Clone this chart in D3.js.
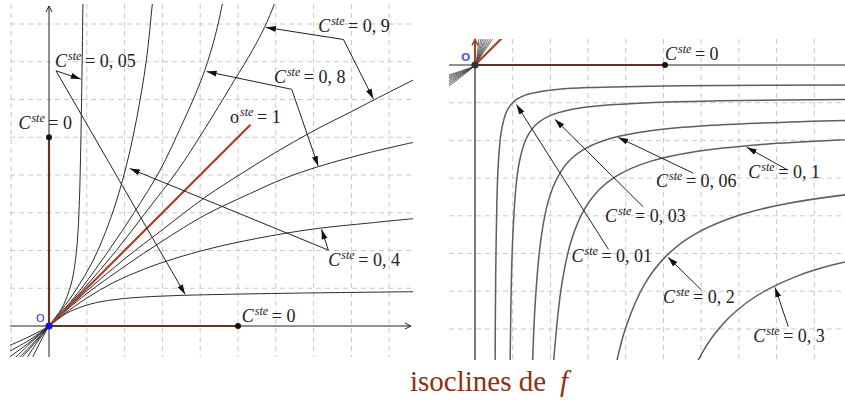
<!DOCTYPE html>
<html><head><meta charset="utf-8">
<script src="https://cdn.jsdelivr.net/npm/d3@7"></script>
<style>body{margin:0;background:#fff}svg{display:block}</style>
</head><body>
<svg id="chart" width="845" height="400"></svg>
<script>
// ---- isoclines through the origin (left panel), [x, y] in grid units ----
const iso005Low = [[-1.1,-0.54],[-0.5,-0.27],[0,0],[0.2,0.15],[0.47,0.34],[0.9,0.52],[1.35,0.64],[2.23,0.75],[3.2,0.8],[4.26,0.83],[6.5,0.87],[9.8,0.91]];
const iso005Up  = [[-0.47,-0.9],[-0.27,-0.5],[0,0],[0.15,0.2],[0.34,0.47],[0.52,0.9],[0.64,1.35],[0.75,2.23],[0.8,3.2],[0.83,4.26],[0.87,6.5],[0.9,8.8]];
const iso04Low  = [[-1.1,-0.7],[-0.5,-0.36],[0,0],[0.4,0.32],[1,0.74],[1.7,1.15],[2.5,1.5],[3.3,1.78],[4.26,2.05],[5.5,2.32],[7,2.57],[8.5,2.73],[9.8,2.86]];
const iso04Up   = [[-0.62,-0.9],[-0.36,-0.5],[0,0],[0.32,0.4],[0.74,1],[1.15,1.7],[1.5,2.5],[1.78,3.3],[2.05,4.26],[2.32,5.5],[2.57,7],[2.73,8.5],[2.76,8.8]];
const iso08Low  = [[-1.1,-0.86],[-0.5,-0.42],[0,0],[0.5,0.45],[1,0.86],[2,1.58],[3,2.25],[4.13,2.94],[5.3,3.5],[6.2,3.9],[7.12,4.22],[8.5,4.6],[9.8,4.9]];
const iso08Up   = [[-0.78,-0.9],[-0.42,-0.5],[0,0],[0.45,0.5],[0.86,1],[1.58,2],[2.25,3],[2.94,4.13],[3.5,5.3],[3.9,6.2],[4.13,6.8],[4.4,7.7],[4.58,8.5],[4.64,8.8]];
const iso09Low  = [[-1.0,-0.95],[-0.5,-0.46],[0,0],[1,0.93],[2,1.78],[3,2.55],[4.13,3.41],[5.11,4.05],[6.0,4.6],[7.0,5.17],[8.0,5.68],[8.58,5.98],[9.8,6.6]];
const iso09Up   = [[-0.9,-0.95],[-0.46,-0.5],[0,0],[0.93,1],[1.78,2],[2.55,3],[3.41,4.13],[4.05,5.11],[4.9,6.5],[5.38,7.3],[5.7,7.91],[5.95,8.5],[6.05,8.8]];
const leftIsoclines = [iso005Low, iso005Up, iso04Low, iso04Up, iso08Low, iso08Up, iso09Low, iso09Up];

// ---- isoclines of the fourth quadrant (right panel) ----
const iso001 = [[0.53,-8.83],[0.55,-5.5],[0.6,-3.0],[0.65,-2.17],[0.7,-1.75],[0.8,-1.33],[0.9,-1.125],[1.0,-1.0],[1.125,-0.9],[1.33,-0.8],[1.75,-0.7],[2.17,-0.65],[3.0,-0.6],[5.5,-0.55],[10.5,-0.525]];
const iso003 = [[0.91,-10.2],[0.95,-6.48],[1.0,-4.6],[1.1,-3.1],[1.2,-2.46],[1.35,-1.975],[1.6,-1.6],[1.975,-1.35],[2.46,-1.2],[3.1,-1.1],[4.6,-1.0],[6.48,-0.95],[10.2,-0.91]];
const iso006 = [[1.45,-11.2],[1.5,-8.75],[1.6,-6.27],[1.75,-4.61],[1.95,-3.59],[2.2,-2.96],[2.52,-2.52],[2.96,-2.2],[3.59,-1.95],[4.61,-1.75],[6.27,-1.6],[8.75,-1.5],[11.2,-1.45]];
const iso01  = [[1.9,-12.5],[2.0,-9.42],[2.1,-7.69],[2.3,-5.83],[2.55,-4.67],[2.9,-3.83],[3.3,-3.3],[3.83,-2.9],[4.67,-2.55],[5.83,-2.3],[7.69,-2.1],[9.42,-2.0],[12.5,-1.9]];
const iso02  = [[3.2,-12.8],[3.4,-10.2],[3.7,-8.15],[4.0,-6.96],[4.5,-5.81],[5.07,-5.07],[5.81,-4.5],[6.96,-4.0],[8.15,-3.7],[10.2,-3.4],[12.8,-3.2]];
const iso03  = [[5.0,-10.9],[5.3,-9.5],[5.6,-8.54],[6.0,-7.68],[6.3,-7.21],[6.72,-6.72],[7.21,-6.3],[7.68,-6.0],[8.54,-5.6],[9.5,-5.3],[10.9,-5.0]];
const rightIsoclines = [iso001, iso003, iso006, iso01, iso02, iso03];

// bundle of isoclines crossing the origin (right panel)
const fan1 = [[-0.75,-0.28],[-0.35,-0.15],[0,0],[0.06,0.3],[0.1,0.72]];
const fan2 = [[-0.75,-0.32],[-0.35,-0.17],[0,0],[0.08,0.3],[0.16,0.72]];
const fan3 = [[-0.75,-0.36],[-0.35,-0.19],[0,0],[0.1,0.3],[0.21,0.72]];
const fan4 = [[-0.75,-0.40],[-0.35,-0.21],[0,0],[0.12,0.3],[0.26,0.72]];
const fan5 = [[-0.75,-0.45],[-0.35,-0.23],[0,0],[0.14,0.3],[0.31,0.72]];
const fan6 = [[-0.75,-0.50],[-0.35,-0.25],[0,0],[0.16,0.3],[0.37,0.72]];
const fan7 = [[-0.75,-0.55],[-0.35,-0.27],[0,0],[0.18,0.3],[0.43,0.72]];
const fan8 = [[-0.75,-0.60],[-0.35,-0.3],[0,0],[0.2,0.3],[0.49,0.72]];
const rightFan = [fan1, fan2, fan3, fan4, fan5, fan6, fan7, fan8];

// zero-level and unit-level isoclines
const leftZeroY = [[0,0],[0,5]];
const leftZeroX = [[0,0],[5,0]];
const leftUnit  = [[0,0],[5.33,5.33]];
const rightZeroX = [[0,0],[5.04,0]];
const rightZeroY = [[0,0],[0,0.68]];
const rightUnit  = [[0,0],[0.8,0.8]];

// grid ticks
const leftGridX = [-1,1,2,3,4,5,6,7,8,9];
const leftGridY = [1,2,3,4,5,6,7,8];
const rightGridX = [1,2,3,4,5,6,7,8,9];
const rightGridY = [-1,-2,-3,-4,-5,-6,-7];

// labels: [letter, value, x, y]; arrows: [tail, tip, tip...]
const leftLabels = [
  ['C','0, 05',0.16,6.86], ['C','0',-0.81,5.21], ['C','0, 9',7.12,7.8],
  ['C','0, 8',5.95,6.43], ['o','1',4.79,5.37], ['C','0, 4',7.39,1.59], ['C','0',5.1,0.11]
];
const leftArrows = [
  [[0.185,6.76],[0.84,6.54],[3.6,0.84]],
  [[7.79,7.59],[5.74,7.91],[8.58,6.02]],
  [[6.42,6.27],[4.17,6.74],[7.12,4.24]],
  [[7.39,2.01],[2.14,4.17],[7.21,2.56]]
];
const rightLabels = [
  ['C','0',5.04,0.13], ['C','0, 06',4.8,-3.23], ['C','0, 1',7.25,-3.0],
  ['C','0, 03',3.45,-4.16], ['C','0, 01',2.56,-5.22], ['C','0, 2',4.99,-6.32], ['C','0, 3',7.38,-7.34]
];
const rightArrows = [
  [[3.54,-4.89],[1.1,-1.05]],
  [[4.46,-3.76],[2.12,-1.44]],
  [[5.79,-2.87],[3.8,-1.92]],
  [[8.3,-2.79],[7.21,-2.18]],
  [[6.01,-5.97],[5.12,-5.1]],
  [[8.31,-6.94],[7.96,-5.9]]
];

const titleText = 'isoclines de';
const titleVar = 'f';

// ---------------------------------------------------------------
const svg = d3.select('#chart');
const BROWN = '#a3461f';
const defs = svg.append('defs');
defs.append('marker').attr('id','tip').attr('viewBox','0 -4 10 8')
  .attr('refX',10).attr('refY',0).attr('markerWidth',10).attr('markerHeight',8)
  .attr('markerUnits','userSpaceOnUse').attr('orient','auto')
  .append('path').attr('d','M0,-3L10,0L0,3Z').attr('fill','#111');
defs.append('marker').attr('id','axisTip').attr('viewBox','0 -4 8 8')
  .attr('refX',7).attr('refY',0).attr('markerWidth',8).attr('markerHeight',8)
  .attr('markerUnits','userSpaceOnUse').attr('orient','auto')
  .append('path').attr('d','M1,-3L7,0L1,3').attr('fill','none').attr('stroke','#222').attr('stroke-width',1);
defs.append('marker').attr('id','axisTipBrown').attr('viewBox','0 -4 8 8')
  .attr('refX',7).attr('refY',0).attr('markerWidth',8).attr('markerHeight',8)
  .attr('markerUnits','userSpaceOnUse').attr('orient','auto')
  .append('path').attr('d','M1,-3L7,0L1,3').attr('fill','none').attr('stroke',BROWN).attr('stroke-width',1.5);

function panel(opts) {
  const {x, y, box, id} = opts;
  defs.append('clipPath').attr('id', id).append('rect')
    .attr('x', box[0]).attr('y', box[1]).attr('width', box[2]-box[0]).attr('height', box[3]-box[1]);
  const g = svg.append('g');
  const c = g.append('g').attr('clip-path', `url(#${id})`);
  const line = d3.line().x(d => x(d[0])).y(d => y(d[1])).curve(d3.curveCatmullRom.alpha(0.5));
  const straight = d3.line().x(d => x(d[0])).y(d => y(d[1]));
  // dashed grid
  c.selectAll('.gx').data(opts.gridX).join('line')
    .attr('x1', d => x(d)).attr('x2', d => x(d)).attr('y1', box[1]).attr('y2', box[3])
    .attr('stroke','#c9c9c9').attr('stroke-dasharray','5,4').attr('stroke-width',1);
  c.selectAll('.gy').data(opts.gridY).join('line')
    .attr('y1', d => y(d)).attr('y2', d => y(d)).attr('x1', box[0]).attr('x2', box[2])
    .attr('stroke','#c9c9c9').attr('stroke-dasharray','5,4').attr('stroke-width',1);
  return {g, c, line, straight};
}

// ---- left panel ----
const lx = d3.scaleLinear().domain([0,10]).range([49,427]);
const ly = d3.scaleLinear().domain([0,8]).range([326,24]);
const L = panel({x: lx, y: ly, box: [10,4,413,357], id: 'clipL', gridX: leftGridX, gridY: leftGridY});
L.g.append('line').attr('x1',10).attr('x2',411).attr('y1',ly(0)).attr('y2',ly(0))
  .attr('stroke','#222').attr('stroke-width',1).attr('marker-end','url(#axisTip)');
L.g.append('line').attr('x1',lx(0)).attr('x2',lx(0)).attr('y1',357).attr('y2',6)
  .attr('stroke','#222').attr('stroke-width',1).attr('marker-end','url(#axisTip)');
L.c.selectAll('.iso').data(leftIsoclines).join('path')
  .attr('d', L.line).attr('fill','none').attr('stroke','#2b2b2b').attr('stroke-width',1);
[leftZeroY, leftZeroX, leftUnit].forEach(s => L.c.append('path').attr('d', L.straight(s))
  .attr('fill','none').attr('stroke',BROWN).attr('stroke-width',2.2));
[[0,5],[5,0]].forEach(p => L.g.append('circle').attr('cx',lx(p[0])).attr('cy',ly(p[1])).attr('r',3).attr('fill','#111'));
L.g.append('circle').attr('cx',lx(0)).attr('cy',ly(0)).attr('r',3.6).attr('fill','#1414d8');
L.g.append('text').attr('x',36).attr('y',322).attr('font-family','DejaVu Sans, sans-serif')
  .attr('font-size',11).attr('fill','#2a3fe0').text('O');

// ---- right panel ----
const rx = d3.scaleLinear().domain([0,10]).range([475,852]);
const ry = d3.scaleLinear().domain([0,-8]).range([65,366.6]);
const R = panel({x: rx, y: ry, box: [449,39,845,360], id: 'clipR', gridX: rightGridX, gridY: rightGridY});
R.g.append('line').attr('x1',449).attr('x2',845).attr('y1',ry(0)).attr('y2',ry(0))
  .attr('stroke','#222').attr('stroke-width',1);
R.g.append('line').attr('x1',rx(0)).attr('x2',rx(0)).attr('y1',360).attr('y2',ry(0))
  .attr('stroke','#222').attr('stroke-width',1.2);
R.c.selectAll('.iso').data(rightIsoclines).join('path')
  .attr('d', R.line).attr('fill','none').attr('stroke','#5e5e5e').attr('stroke-width',1.5);
R.c.selectAll('.fan').data(rightFan).join('path')
  .attr('d', R.line).attr('fill','none').attr('stroke','#444').attr('stroke-width',0.8);
R.c.append('path').attr('d', R.straight(rightZeroX)).attr('fill','none').attr('stroke',BROWN).attr('stroke-width',2.2);
R.c.append('path').attr('d', R.straight(rightUnit)).attr('fill','none').attr('stroke',BROWN).attr('stroke-width',2.2);
R.g.append('path').attr('d', R.straight(rightZeroY)).attr('fill','none').attr('stroke',BROWN)
  .attr('stroke-width',2).attr('marker-end','url(#axisTipBrown)');
R.g.append('circle').attr('cx',rx(5.04)).attr('cy',ry(0)).attr('r',3).attr('fill','#111');
R.g.append('circle').attr('cx',rx(0)).attr('cy',ry(0)).attr('r',3.6).attr('fill','#333');
R.g.append('text').attr('x',461).attr('y',61).attr('font-family','DejaVu Sans, sans-serif')
  .attr('font-size',11).attr('font-weight','bold').attr('fill','#6262e0').text('O');

// ---- annotations ----
function drawLabels(P, x, y, labels) {
  labels.forEach(([letter, value, lxv, lyv]) => {
    const t = P.g.append('text').attr('x', x(lxv)).attr('y', y(lyv))
      .attr('font-family','Liberation Serif, Times New Roman, serif').attr('font-size',18).attr('fill','#222');
    t.append('tspan').attr('font-style', letter === 'C' ? 'italic' : 'normal').text(letter);
    t.append('tspan').attr('font-style','italic').attr('font-size',12).attr('dy',-7).attr('dx',1).text('ste');
    t.append('tspan').attr('dy',7).text('\u2009= ' + value);
  });
}
function drawArrows(P, arrows) {
  arrows.forEach(([tail, ...tips]) => {
    tips.forEach(tip => P.g.append('path').attr('d', P.straight([tail, tip]))
      .attr('fill','none').attr('stroke','#222').attr('stroke-width',1).attr('marker-end','url(#tip)'));
  });
}
drawArrows(L, leftArrows);
drawArrows(R, rightArrows);
drawLabels(L, lx, ly, leftLabels);
drawLabels(R, rx, ry, rightLabels);

// ---- caption ----
const cap = svg.append('text').attr('x',410).attr('y',391)
  .attr('font-family','Liberation Serif, Times New Roman, serif').attr('font-size',29).attr('fill','#8e2f12');
cap.append('tspan').text(titleText);
cap.append('tspan').attr('dx',14).attr('font-style','italic').text(titleVar);
</script>
</body></html>
